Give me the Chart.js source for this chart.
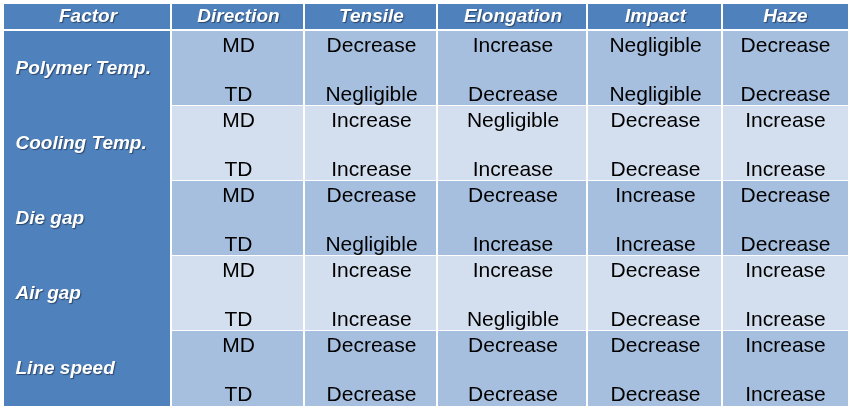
<!DOCTYPE html>
<html>
<head>
<meta charset="utf-8">
<script src="https://cdn.jsdelivr.net/npm/chart.js@4"></script>
<style>
  html, body { margin: 0; padding: 0; background: #fff; }
  #wrap { width: 853px; height: 413px; position: relative; }
</style>
</head>
<body>
<div id="wrap"><canvas id="myChart"></canvas></div>
<script>
const factors = ['Polymer Temp.', 'Cooling Temp.', 'Die gap', 'Air gap', 'Line speed']
const directions = ['MD', 'TD']
const headers = ['Factor', 'Direction', 'Tensile', 'Elongation', 'Impact', 'Haze']

// one entry per row: factor x direction (MD, TD, MD, TD ...)
const tensile = ['Decrease', 'Negligible', 'Increase', 'Increase', 'Decrease', 'Negligible', 'Increase', 'Increase', 'Decrease', 'Decrease']
const elongation = ['Increase', 'Decrease', 'Negligible', 'Increase', 'Decrease', 'Increase', 'Increase', 'Negligible', 'Decrease', 'Decrease']
const impact = ['Negligible', 'Negligible', 'Decrease', 'Decrease', 'Increase', 'Increase', 'Decrease', 'Decrease', 'Decrease', 'Decrease']
const haze = ['Decrease', 'Decrease', 'Increase', 'Increase', 'Decrease', 'Decrease', 'Increase', 'Increase', 'Increase', 'Increase']

const columns = [tensile, elongation, impact, haze]

// layout, in table units (scale values)
const colEdges = [0, 168, 301, 434, 584, 719, 844]
const headH = 25
const bodyTop = 27
const groupH = 75
const tableH = bodyTop + groupH * factors.length

const headBlue = '#4F81BD'
const rowDark = '#A7BFDE'
const rowLight = '#D3DFEE'

const tablePlugin = {
  id: 'table',
  afterDraw(chart) {
    const c = chart.ctx
    const xs = chart.scales.x
    const ys = chart.scales.y
    const px = v => xs.getPixelForValue(v)
    const py = v => ys.getPixelForValue(v)
    const rect = (x0, y0, x1, y1, col) => {
      c.fillStyle = col
      c.fillRect(px(x0), py(y0), px(x1) - px(x0), py(y1) - py(y0))
    }
    c.save()

    // header row
    headers.forEach((h, i) => {
      const x1 = i < headers.length - 1 ? colEdges[i + 1] - 2 : colEdges[i + 1]
      rect(colEdges[i], 0, x1, headH, headBlue)
    })

    // factor column block
    rect(colEdges[0], bodyTop, colEdges[1] - 2, tableH, headBlue)

    // body cells
    factors.forEach((f, g) => {
      const top = bodyTop + g * groupH
      const bot = g < factors.length - 1 ? top + groupH - 1 : top + groupH
      const col = g % 2 === 0 ? rowDark : rowLight
      for (let i = 1; i < headers.length; i++) {
        const x1 = i < headers.length - 1 ? colEdges[i + 1] - 2 : colEdges[i + 1]
        rect(colEdges[i], top, x1, bot, col)
      }
    })

    // header text
    c.font = 'italic bold 19px Arial, "Liberation Sans", sans-serif'
    c.fillStyle = '#fff'
    c.textAlign = 'center'
    c.textBaseline = 'alphabetic'
    c.shadowColor = 'rgba(0,0,0,0.45)'
    c.shadowOffsetX = 1
    c.shadowOffsetY = 1
    c.shadowBlur = 1
    headers.forEach((h, i) => {
      c.fillText(h, px((colEdges[i] + colEdges[i + 1]) / 2), py(18))
    })

    // factor labels
    c.textAlign = 'left'
    c.textBaseline = 'middle'
    factors.forEach((f, g) => {
      c.fillText(f, px(11.5), py(bodyTop + g * groupH + groupH / 2))
    })

    // body text
    c.shadowColor = 'transparent'
    c.font = '21px Arial, "Liberation Sans", sans-serif'
    c.fillStyle = '#000'
    c.textAlign = 'center'
    c.textBaseline = 'alphabetic'
    factors.forEach((f, g) => {
      directions.forEach((d, k) => {
        const y = py(bodyTop + g * groupH + 21 + k * 49)
        const r = g * directions.length + k
        c.fillText(d, px((colEdges[1] + colEdges[2]) / 2), y)
        columns.forEach((vals, j) => {
          c.fillText(vals[r], px((colEdges[j + 2] + colEdges[j + 3]) / 2), y)
        })
      })
    })
    c.restore()
  }
}

new Chart(document.getElementById('myChart'), {
  type: 'scatter',
  data: { datasets: [] },
  options: {
    responsive: true,
    maintainAspectRatio: false,
    animation: false,
    layout: { padding: { left: 4, top: 4, right: 5, bottom: 7 } },
    scales: {
      x: { type: 'linear', min: 0, max: colEdges[colEdges.length - 1], display: false },
      y: { type: 'linear', min: 0, max: tableH, reverse: true, display: false }
    },
    plugins: {
      legend: { display: false },
      tooltip: { enabled: false }
    }
  },
  plugins: [tablePlugin]
})
</script>
</body>
</html>
